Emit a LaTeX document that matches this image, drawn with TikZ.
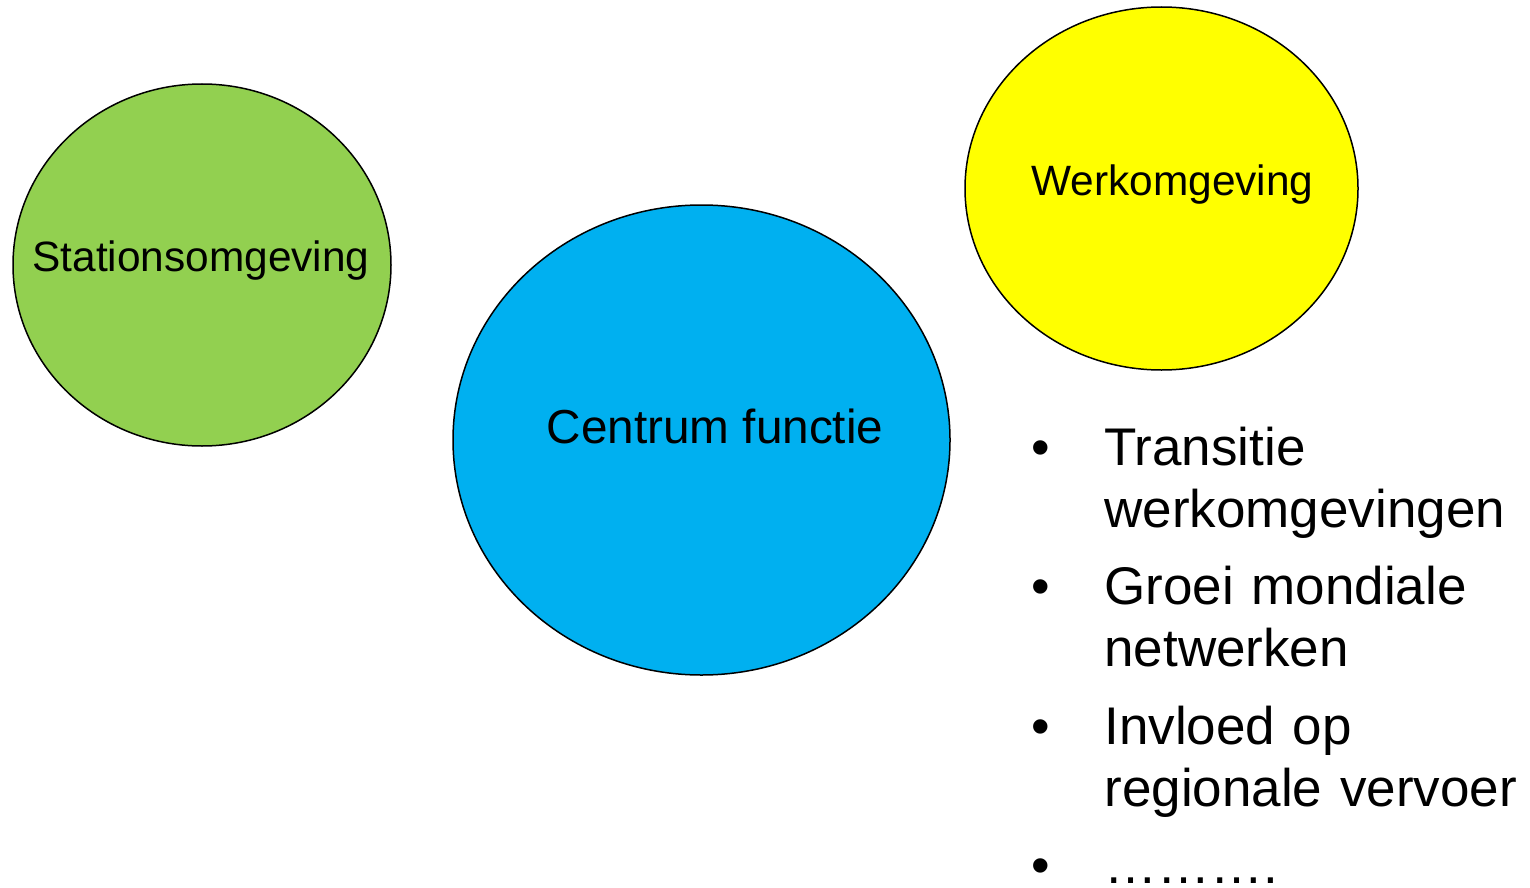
\documentclass[tikz,border=0pt]{standalone}
\usepackage{fontspec}
\setmainfont{Liberation Sans}
\usetikzlibrary{shapes.geometric}
\definecolor{stationgreen}{HTML}{92D050}
\definecolor{centrumblue}{HTML}{00B0F0}
\definecolor{werkyellow}{HTML}{FFFF00}
\tikzset{
  blob/.style={ellipse,draw=black,line width=0.75pt,inner sep=0pt},
  blobtext/.style={anchor=base,inner sep=0pt,font=\fontsize{21.2}{25}\selectfont},
  bullet/.style={anchor=base west,inner sep=0pt,font=\fontsize{26.5}{31}\selectfont},
  item/.style={anchor=base west,inner sep=0pt,text width=240pt,align=left,font=\fontsize{26.5}{31}\selectfont}
}
\begin{document}
\begin{tikzpicture}[x=0.5pt,y=-0.5pt]
\useasboundingbox (0,0) rectangle (1530,888);
% de drie omgevingen
\node[blob,fill=stationgreen,minimum width=189pt,minimum height=181pt] (station) at (202,265) {};
\node[blob,fill=centrumblue,minimum width=248.5pt,minimum height=235pt] (centrum) at (701.5,440) {};
\node[blob,fill=werkyellow,minimum width=196.5pt,minimum height=181.5pt] (werk) at (1161.5,188.5) {};
\node[blobtext] (stationtxt) at (201,271) {Stationsomgeving};
\node[blobtext,font=\fontsize{23.85}{28}\selectfont] (centrumtxt) at (715,443) {Centrum functie};
\node[blobtext] (werktxt) at (1172.5,195) {Werkomgeving};
% opsomming
\foreach \y/\naam in {465/b1,604/b2,744/b3,883/b4}
{
\node[bullet] (\naam) at (1031,\y) {•};
}
\node[item] (t1) at (1104,465) {Transitie\\werkomgevingen};
\node[item] (t2) at (1104,604) {Groei mondiale\\netwerken};
\node[item] (t3) at (1104,744) {Invloed op\\regionale vervoer};
\node[item] (t4) at (1104,883) {……….};
\end{tikzpicture}
\end{document}
